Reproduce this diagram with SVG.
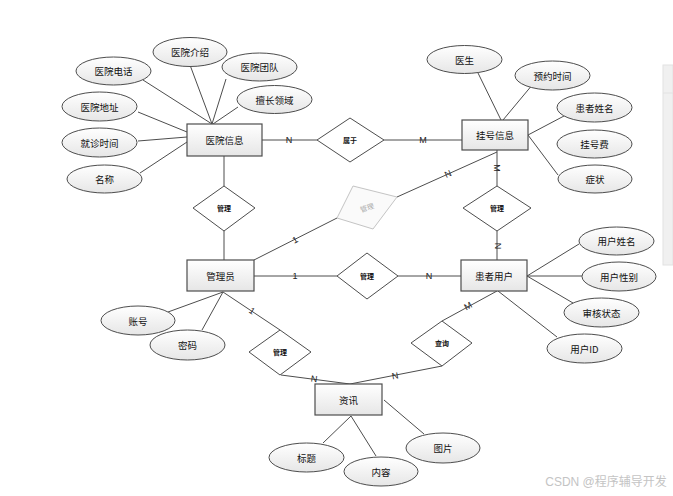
<svg xmlns="http://www.w3.org/2000/svg" width="673" height="496" viewBox="0 0 673 496">
<defs>
<linearGradient id="g" x1="0" y1="0" x2="0" y2="1">
<stop offset="0" stop-color="#ffffff"/>
<stop offset="1" stop-color="#e6e6e6"/>
</linearGradient>
<style>
.ent{fill:url(#g);stroke:#4d4d4d;stroke-width:1.2}
.att{fill:url(#g);stroke:#4d4d4d;stroke-width:1}
.rel{fill:#ffffff;stroke:#4d4d4d;stroke-width:1}
.t{font-family:"Noto Sans CJK SC",sans-serif;font-size:9.5px;fill:#111;text-anchor:middle;dominant-baseline:central}
.rt{font-family:"Noto Sans CJK SC",sans-serif;font-size:7px;font-weight:bold;fill:#111;text-anchor:middle;dominant-baseline:central}
.lb{font-family:"Liberation Sans",Arial,sans-serif;font-size:9px;fill:#222;text-anchor:middle;dominant-baseline:central}
#connectors line{stroke:#4d4d4d;stroke-width:1}
</style>
</defs>
<rect width="673" height="496" fill="#ffffff"/>
<rect x="663" y="65" width="10" height="200" fill="#f0f0f0" stroke="#e2e2e2" stroke-width="1"/>
<line x1="663" y1="93" x2="673" y2="93" stroke="#e2e2e2"/>

<g id="connectors">
<line x1="143" y1="80" x2="212" y2="124"/>
<line x1="190" y1="65" x2="212" y2="124"/>
<line x1="226" y1="79" x2="212" y2="124"/>
<line x1="238" y1="107" x2="213" y2="124"/>
<line x1="138" y1="112" x2="187" y2="132"/>
<line x1="138" y1="141" x2="187" y2="137"/>
<line x1="140" y1="173" x2="187" y2="142"/>
<line x1="262" y1="140" x2="317" y2="140"/>
<line x1="384" y1="140" x2="462" y2="140"/>
<line x1="478" y1="73" x2="501" y2="120"/>
<line x1="533" y1="84" x2="503" y2="120"/>
<line x1="564" y1="116" x2="528" y2="135"/>
<line x1="528" y1="135" x2="558" y2="175"/>
<line x1="497" y1="150" x2="497" y2="186"/>
<line x1="497" y1="231" x2="497" y2="260"/>
<line x1="497" y1="152" x2="397" y2="197"/>
<line x1="337" y1="218" x2="254" y2="260"/>
<line x1="224" y1="156" x2="224" y2="186"/>
<line x1="224" y1="231" x2="224" y2="260"/>
<line x1="254" y1="276" x2="337" y2="276"/>
<line x1="398" y1="276" x2="461" y2="276"/>
<line x1="527" y1="276" x2="579" y2="244"/>
<line x1="527" y1="276" x2="582" y2="276"/>
<line x1="527" y1="276" x2="573" y2="303"/>
<line x1="498" y1="291" x2="557" y2="337"/>
<line x1="497" y1="291" x2="442" y2="321"/>
<line x1="442" y1="366" x2="350" y2="384"/>
<line x1="281" y1="375" x2="350" y2="384"/>
<line x1="223" y1="292" x2="280" y2="330"/>
<line x1="168" y1="312" x2="223" y2="292"/>
<line x1="202" y1="330" x2="223" y2="292"/>
<line x1="323" y1="443" x2="351" y2="416"/>
<line x1="376" y1="456" x2="351" y2="416"/>
<line x1="424" y1="434" x2="384" y2="400"/>
<text class="lb" x="289" y="140">N</text>
<text class="lb" x="423" y="140">M</text>
<text class="lb" x="295" y="276">1</text>
<text class="lb" x="429" y="276">N</text>
<text class="lb" transform="translate(497,168) rotate(90)">M</text>
<text class="lb" transform="translate(498,246) rotate(90)">N</text>
<text class="lb" transform="translate(448,174) rotate(-24)">N</text>
<text class="lb" transform="translate(295,240) rotate(-27)">1</text>
<text class="lb" transform="translate(468,306) rotate(-29)">M</text>
<text class="lb" transform="translate(252,311) rotate(34)">1</text>
<text class="lb" transform="translate(314,379) rotate(7)">N</text>
<text class="lb" transform="translate(395,376) rotate(-11)">N</text>
</g>

<g id="e-hospital"><rect class="ent" x="187" y="124" width="75" height="32"/><text class="t" x="224.5" y="140">医院信息</text></g>
<g id="e-register"><rect class="ent" x="462" y="120" width="66" height="30"/><text class="t" x="495" y="135">挂号信息</text></g>
<g id="e-admin"><rect class="ent" x="187" y="260" width="67" height="31"/><text class="t" x="220.5" y="275.5">管理员</text></g>
<g id="e-patient"><rect class="ent" x="461" y="260" width="66" height="31"/><text class="t" x="494" y="275.5">患者用户</text></g>
<g id="e-news"><rect class="ent" x="315" y="384" width="67" height="31"/><text class="t" x="348.5" y="399.5">资讯</text></g>

<g id="r-belong"><polygon class="rel" points="317,140 350,118 384,140 350,162"/><text class="rt" x="350" y="140">属于</text></g>
<g id="r-manage1"><polygon class="rel" points="193,208 224,186 255,208 224,231"/><text class="rt" x="224" y="208">管理</text></g>
<g id="r-manage2"><polygon points="353,186 397,197 373,229 337,218" fill="#fafafa" stroke="#c4c4c4" stroke-width="1"/><text class="rt" fill="#aaa" style="fill:#a8a8a8;font-weight:normal" transform="translate(367,207.5) rotate(-19)">管理</text></g>
<g id="r-manage3"><polygon class="rel" points="337,276 367,253 398,276 367,299"/><text class="rt" x="367" y="276">管理</text></g>
<g id="r-manage4"><polygon class="rel" points="463,208 497,186 531,208 497,231"/><text class="rt" x="497" y="208">管理</text></g>
<g id="r-manage5"><polygon class="rel" points="249,352 280,330 311,352 280,375"/><text class="rt" x="280" y="352">管理</text></g>
<g id="r-query"><polygon class="rel" points="411,343 442,321 472,343 442,366"/><text class="rt" x="442" y="343">查询</text></g>

<g id="a-phone"><ellipse class="att" cx="113.5" cy="71" rx="37.5" ry="14"/><text class="t" x="113.5" y="71">医院电话</text></g>
<g id="a-intro"><ellipse class="att" cx="190" cy="52" rx="37" ry="14.5"/><text class="t" x="190" y="52">医院介绍</text></g>
<g id="a-team"><ellipse class="att" cx="259.5" cy="67" rx="37.5" ry="14"/><text class="t" x="259.5" y="67">医院团队</text></g>
<g id="a-field"><ellipse class="att" cx="274.5" cy="99.5" rx="37.5" ry="14"/><text class="t" x="274.5" y="99.5">擅长领域</text></g>
<g id="a-addr"><ellipse class="att" cx="99.5" cy="106.5" rx="37.5" ry="14.5"/><text class="t" x="99.5" y="106.5">医院地址</text></g>
<g id="a-time"><ellipse class="att" cx="99.5" cy="142.5" rx="37.5" ry="14.5"/><text class="t" x="99.5" y="142.5">就诊时间</text></g>
<g id="a-name"><ellipse class="att" cx="104.5" cy="179" rx="37.5" ry="14"/><text class="t" x="104.5" y="179">名称</text></g>
<g id="a-doctor"><ellipse class="att" cx="464.5" cy="59.5" rx="37.5" ry="14"/><text class="t" x="464.5" y="59.5">医生</text></g>
<g id="a-appt"><ellipse class="att" cx="552.5" cy="75.5" rx="37.5" ry="14.5"/><text class="t" x="552.5" y="75.5">预约时间</text></g>
<g id="a-pname"><ellipse class="att" cx="594.5" cy="107.5" rx="37.5" ry="14.5"/><text class="t" x="594.5" y="107.5">患者姓名</text></g>
<g id="a-fee"><ellipse class="att" cx="594.5" cy="144" rx="37.5" ry="14"/><text class="t" x="594.5" y="144">挂号费</text></g>
<g id="a-symptom"><ellipse class="att" cx="595" cy="179" rx="37" ry="14"/><text class="t" x="595" y="179">症状</text></g>
<g id="a-uname"><ellipse class="att" cx="616.5" cy="241" rx="37.5" ry="14"/><text class="t" x="616.5" y="241">用户姓名</text></g>
<g id="a-usex"><ellipse class="att" cx="619" cy="276.5" rx="37" ry="14.5"/><text class="t" x="619" y="276.5">用户性别</text></g>
<g id="a-status"><ellipse class="att" cx="601.5" cy="312.5" rx="37.5" ry="14.5"/><text class="t" x="601.5" y="312.5">审核状态</text></g>
<g id="a-uid"><ellipse class="att" cx="584.5" cy="348.5" rx="37.5" ry="14.5"/><text class="t" x="584.5" y="348.5">用户ID</text></g>
<g id="a-account"><ellipse class="att" cx="138" cy="320.5" rx="37" ry="14.5"/><text class="t" x="138" y="320.5">账号</text></g>
<g id="a-pwd"><ellipse class="att" cx="187.5" cy="345" rx="37.5" ry="15"/><text class="t" x="187.5" y="345">密码</text></g>
<g id="a-title"><ellipse class="att" cx="306.5" cy="457.5" rx="37.5" ry="14.5"/><text class="t" x="306.5" y="457.5">标题</text></g>
<g id="a-content"><ellipse class="att" cx="381" cy="471.5" rx="37" ry="14.5"/><text class="t" x="381" y="471.5">内容</text></g>
<g id="a-pic"><ellipse class="att" cx="443" cy="448" rx="37" ry="15"/><text class="t" x="443" y="448">图片</text></g>

<text x="606" y="482" style="font-family:'Liberation Sans','Noto Sans CJK SC',sans-serif;font-size:12px;fill:#c4c4c4;text-anchor:middle;dominant-baseline:central">CSDN @程序辅导开发</text>
</svg>
